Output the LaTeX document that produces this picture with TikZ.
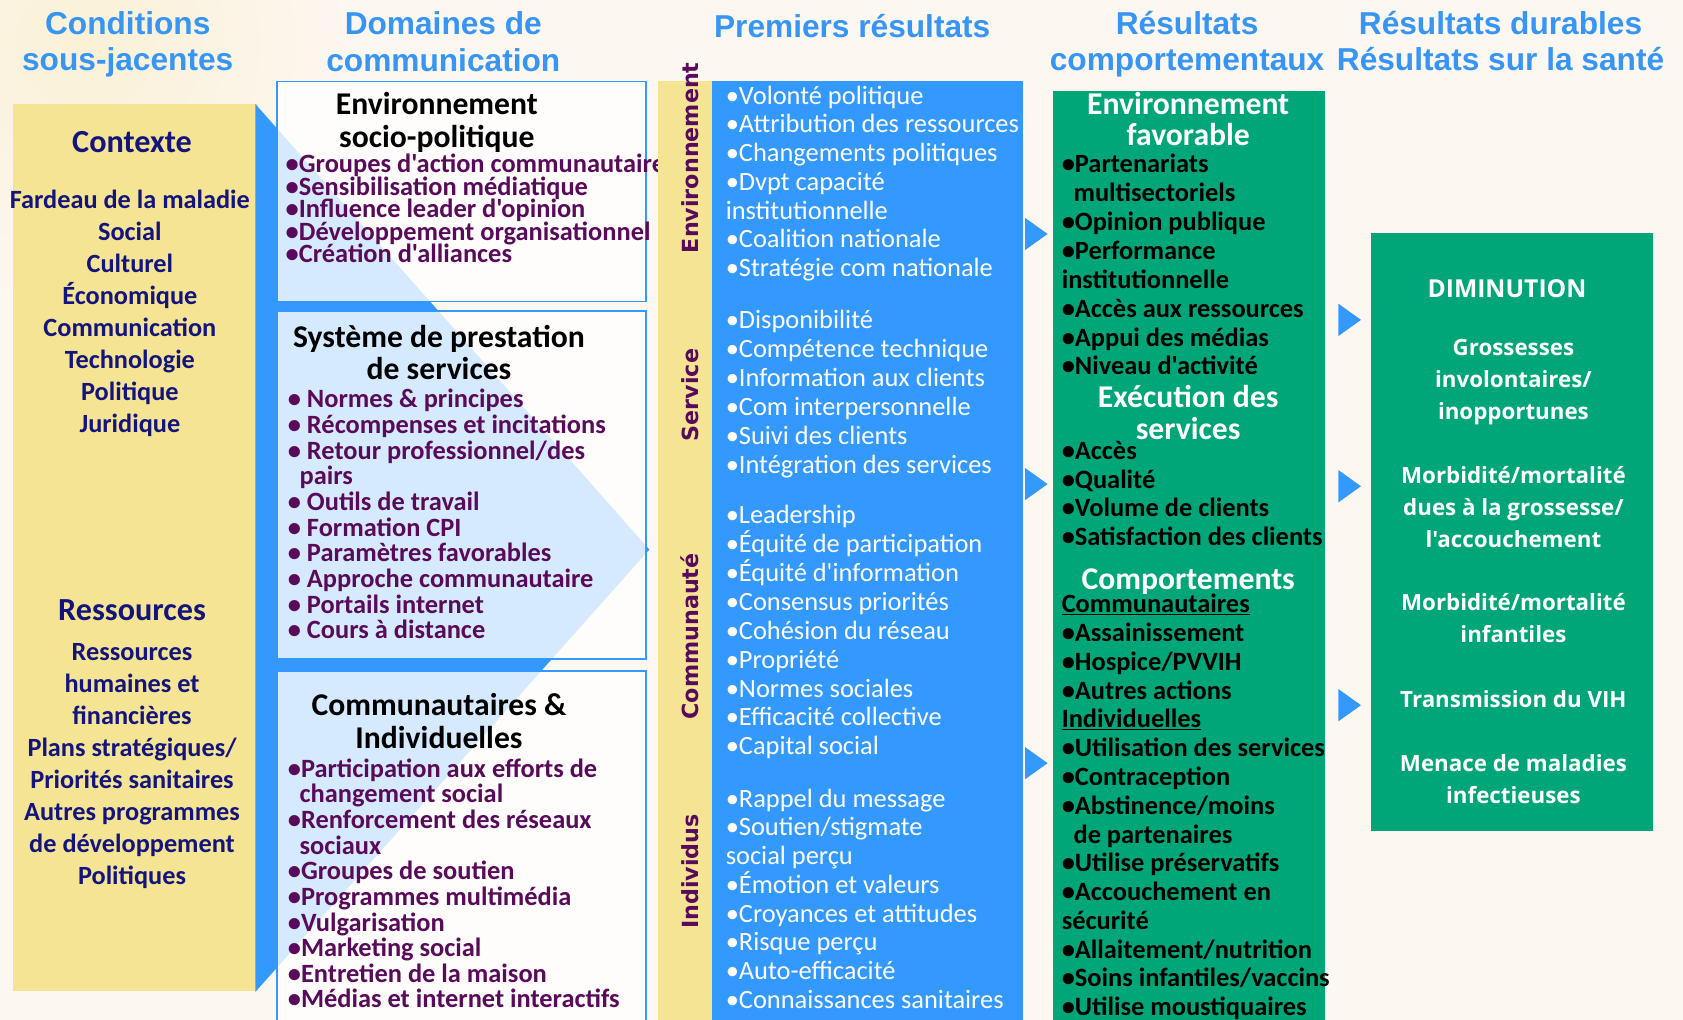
\documentclass[tikz,border=0pt]{standalone}
\usepackage{fontspec}
\setmainfont{Carlito}[Ligatures=TeXOff]
\newfontfamily\headfont{Liberation Sans}[Ligatures=TeXOff]
\newfontfamily\vertfont{DejaVu Sans}[Ligatures=TeXOff]
\newfontfamily\osfont{Open Sans}[Ligatures=TeXOff]
\definecolor{bgc}{RGB}{253,247,242}
\definecolor{glow}{RGB}{250,241,214}
\definecolor{headblue}{RGB}{55,150,245}
\definecolor{yel}{RGB}{245,228,148}
\definecolor{abl}{RGB}{51,153,255}
\definecolor{navy}{RGB}{20,20,125}
\definecolor{purp}{RGB}{90,10,90}
\definecolor{grn}{RGB}{0,166,120}
\newcommand\linelist[6]{%
  \foreach \t [count=\i] in {#6} {\node[#5] (#1-\i) at (#2, {#3+(\i-1)*#4}) {\t};}}
\begin{document}
\begin{tikzpicture}[x=1pt,y=-1pt,
  head/.style={anchor=base,inner sep=0,text=headblue,font={\headfont\bfseries\fontsize{29.5}{34}\selectfont}},
  navybig/.style={anchor=base,inner sep=0,text=navy,font={\bfseries\fontsize{30}{34}\selectfont}},
  navyitem/.style={anchor=base,inner sep=0,text=navy,font={\bfseries\fontsize{24.5}{28}\selectfont}},
  btitle/.style={anchor=base,inner sep=0,text=black,font={\bfseries\fontsize{29.5}{32}\selectfont}},
  pitem/.style={anchor=base west,inner sep=0,text=purp,font={\bfseries\fontsize{24.6}{26}\selectfont}},
  witem/.style={anchor=base west,inner sep=0,text=white,font={\fontsize{24.6}{26}\selectfont}},
  gtitle/.style={anchor=base,inner sep=0,text=white,font={\bfseries\fontsize{29.5}{32}\selectfont}},
  gitem/.style={anchor=base west,inner sep=0,text=black,font={\bfseries\fontsize{24.6}{26}\selectfont}},
  ditem/.style={anchor=base,inner sep=0,text=white,font={\osfont\bfseries\fontsize{20.8}{24}\selectfont}},
  dbig/.style={ditem,font={\osfont\bfseries\fontsize{23}{26}\selectfont}},
  vlab/.style={rotate=90,inner sep=0,text=purp,font={\vertfont\bfseries\fontsize{20.7}{24}\selectfont}},
  wbox/.style={draw=abl,line width=1.5pt,fill=white,fill opacity=0.8},
  tri/.style={fill=abl}
]
\useasboundingbox (0,0) rectangle (1568,950);
\fill[bgc] (0,0) rectangle (1568,950);
\shade[inner color=glow,outer color=bgc] (80,40) circle (260);

% headings
\node[head] (h1a) at (119,32) {Conditions};
\node[head] (h1b) at (119,66) {sous-jacentes};
\node[head] (h2a) at (413,32) {Domaines de};
\node[head] (h2b) at (413,67) {communication};
\node[head] (h3) at (794,35) {Premiers résultats};
\node[head] (h4a) at (1106,32) {Résultats};
\node[head] (h4b) at (1106,66) {comportementaux};
\node[head] (h5a) at (1398,32) {Résultats durables};
\node[head] (h5b) at (1398,66) {Résultats sur la santé};

% left column
\fill[yel] (12,97) rectangle (240,923);
\fill[abl] (238,97) -- (605,512) -- (238,924) -- cycle;
\node[navybig] (ctx) at (123,142) {Contexte};
\linelist{ctxl}{121}{194}{29.9}{navyitem}{Fardeau de la maladie,Social,Culturel,Économique,Communication,Technologie,Politique,Juridique}
\node[navybig] (res) at (123,578) {Ressources};
\linelist{resl}{123}{615}{29.9}{navyitem}{Ressources,humaines et,financières,Plans stratégiques/,Priorités sanitaires,Autres programmes,de développement,Politiques}

% white boxes
\path[wbox] (258,76) rectangle (602,281);
\path[wbox] (258,290) rectangle (602,614);
\path[wbox] (258,625) rectangle (602,960);
\node[btitle] (b1t1) at (407,107) {Environnement};
\node[btitle] (b1t2) at (407,137) {socio-politique};
\linelist{b1}{266}{161}{21}{pitem}{•Groupes d'action communautaire,•Sensibilisation médiatique,•Influence leader d'opinion,•Développement organisationnel,•Création d'alliances}
\node[btitle] (b2t1) at (409,324) {Système de prestation};
\node[btitle] (b2t2) at (409,354) {de services};
\linelist{b2}{268}{380}{23.9}{pitem}{• Normes \& principes,• Récompenses et incitations,• Retour professionnel/des,\hspace*{11pt}pairs,• Outils de travail,• Formation CPI,• Paramètres favorables,• Approche communautaire,• Portails internet,• Cours à distance}
\node[btitle] (b3t1) at (409,667) {Communautaires \&};
\node[btitle] (b3t2) at (409,697) {Individuelles};
\linelist{b3}{268}{724}{23.9}{pitem}{•Participation aux efforts de,\hspace*{11pt}changement social,•Renforcement des réseaux,\hspace*{11pt}sociaux,•Groupes de soutien,•Programmes multimédia,•Vulgarisation,•Marketing social,•Entretien de la maison,•Médias et internet interactifs}

% middle column
\fill[yel] (613,75) rectangle (663,950);
\fill[abl] (663,75) rectangle (953,950);
\node[vlab] (v1) at (643,147) {Environnement};
\node[vlab] (v2) at (643,368) {Service};
\node[vlab] (v3) at (643,593) {Communauté};
\node[vlab] (v4) at (643,812) {Individus};
\linelist{g1}{676}{97}{26.8}{witem}{•Volonté politique,•Attribution des ressources,•Changements politiques,•Dvpt capacité,institutionnelle,•Coalition nationale,•Stratégie com nationale}
\linelist{g2}{676}{306}{27}{witem}{•Disponibilité,•Compétence technique,•Information aux clients,•Com interpersonnelle,•Suivi des clients,•Intégration des services}
\linelist{g3}{676}{488}{26.9}{witem}{•Leadership,•Équité de participation,•Équité d'information,•Consensus priorités,•Cohésion du réseau,•Propriété,•Normes sociales,•Efficacité collective,•Capital social}
\linelist{g4}{676}{752}{26.75}{witem}{•Rappel du message,•Soutien/stigmate,social perçu,•Émotion et valeurs,•Croyances et attitudes,•Risque perçu,•Auto-efficacité,•Connaissances sanitaires}

% arrows
\fill[tri] (955,203) -- (976,218) -- (955,233) -- cycle;
\fill[tri] (955,436) -- (976,451) -- (955,466) -- cycle;
\fill[tri] (955,696) -- (976,711) -- (955,726) -- cycle;
\fill[tri] (1247,283) -- (1268,298) -- (1247,313) -- cycle;
\fill[tri] (1247,438) -- (1268,453) -- (1247,468) -- cycle;
\fill[tri] (1247,642) -- (1268,657) -- (1247,672) -- cycle;

% behaviour column
\fill[grn] (981,85) rectangle (1234,950);
\node[gtitle] (e1) at (1107,107) {Environnement};
\node[gtitle] (e2) at (1107,136) {favorable};
\linelist{ef}{989}{161}{26.9}{gitem}{•Partenariats,\hspace*{11pt}multisectoriels,•Opinion publique,•Performance,institutionnelle,•Accès aux ressources,•Appui des médias,•Niveau d'activité}
\node[gtitle] (x1) at (1107,380) {Exécution des};
\node[gtitle] (x2) at (1107,409) {services};
\linelist{ex}{989}{428}{26.7}{gitem}{•Accès,•Qualité,•Volume de clients,•Satisfaction des clients}
\node[gtitle] (cp) at (1107,549) {Comportements};
\linelist{co}{989}{571}{26.8}{gitem}{\underline{Communautaires},•Assainissement,•Hospice/PVVIH,•Autres actions,\underline{Individuelles},•Utilisation des services,•Contraception,•Abstinence/moins,\hspace*{11pt}de partenaires,•Utilise préservatifs,•Accouchement en,sécurité,•Allaitement/nutrition,•Soins infantiles/vaccins,•Utilise moustiquaires}

% health outcomes
\fill[grn] (1277,217) rectangle (1540,774);
\node[dbig] (dim) at (1404,277) {DIMINUTION};
\linelist{d1}{1410}{331}{30}{ditem}{Grossesses,involontaires/,inopportunes}
\linelist{d2}{1410}{450}{30}{ditem}{Morbidité/mortalité,dues à la grossesse/,l'accouchement}
\linelist{d3}{1410}{569}{30}{ditem}{Morbidité/mortalité,infantiles}
\linelist{d4}{1410}{659}{30}{ditem}{Transmission du VIH}
\linelist{d5}{1410}{719}{30}{ditem}{Menace de maladies,infectieuses}
\end{tikzpicture}
\end{document}
